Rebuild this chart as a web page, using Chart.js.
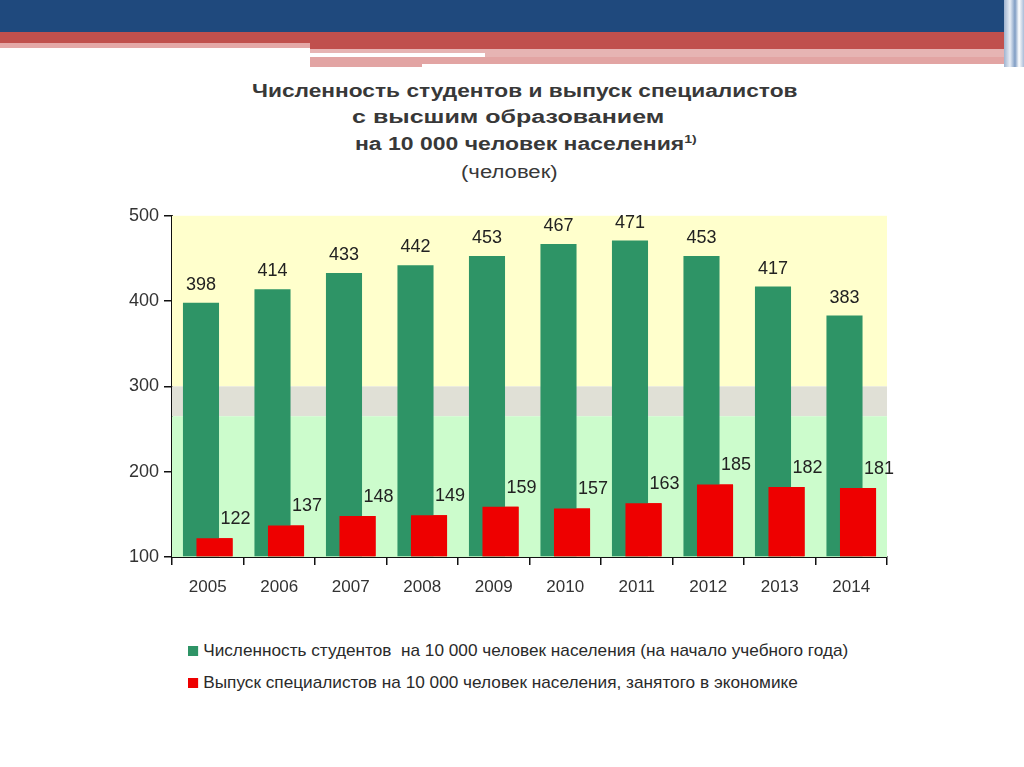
<!DOCTYPE html>
<html>
<head>
<meta charset="utf-8">
<script src="https://cdn.jsdelivr.net/npm/chart.js@4/dist/chart.umd.min.js"></script>
<style>
  body { margin: 0; width: 1024px; height: 767px; background: #fff; position: relative; overflow: hidden; font-family: 'Liberation Sans', Arial, sans-serif; }
  .bar { position: absolute; }
  .tl { position: absolute; white-space: nowrap; color: #383838; font-size: 18px; transform-origin: 0 50%; }
  .tl.b { font-weight: bold; }
  .tl sup { font-size: 11px; vertical-align: 7px; line-height: 0; }
  #chartBox { position: absolute; left: 100px; top: 200px; width: 800px; height: 412px; }
  .leg { position: absolute; left: 188px; white-space: nowrap; font-size: 17px; color: #2a2a2a; transform-origin: 0 50%; }
  .leg i { display: inline-block; width: 10px; height: 10px; margin-right: 5px; }
</style>
</head>
<body>
<!-- header stripes -->
<div class="bar" style="left:0;top:0;width:1024px;height:32px;background:#1f497d"></div>
<div class="bar" style="left:0;top:32px;width:1010px;height:11px;background:#c0504d"></div>
<div class="bar" style="left:0;top:43px;width:310px;height:5px;background:#e4a8a7"></div>
<div class="bar" style="left:310px;top:43px;width:700px;height:6px;background:#c0504d"></div>
<div class="bar" style="left:310px;top:49px;width:700px;height:4px;background:#e6b4b3"></div>
<div class="bar" style="left:485px;top:53px;width:525px;height:4px;background:#e6b4b3"></div>
<div class="bar" style="left:310px;top:57px;width:700px;height:7px;background:#e2a4a3"></div>
<div class="bar" style="left:310px;top:64px;width:112px;height:3px;background:#e2a4a3"></div>
<div class="bar" style="left:1004px;top:0;width:20px;height:67px;background:linear-gradient(90deg,#9fb3cf,#e8eef6 30%,#7f9cc3 55%,#fff 75%,#aabcd8)"></div>

<div class="tl b" data-w="545" style="left:252px;top:81px">Численность студентов и выпуск специалистов</div>
<div class="tl b" data-w="313" style="left:352px;top:107px">с высшим образованием</div>
<div class="tl b" data-w="342" style="left:355px;top:134px">на 10 000 человек населения<sup>1)</sup></div>
<div class="tl" data-w="97" style="left:461px;top:162px">(человек)</div>

<div id="chartBox"><canvas id="chart"></canvas></div>

<div class="leg" data-w="660" style="top:641px"><i style="background:#2e9466"></i>Численность студентов&nbsp; на 10 000 человек населения (на начало учебного года)</div>
<div class="leg" data-w="610" style="top:673px"><i style="background:#ee0000"></i>Выпуск специалистов на 10 000 человек населения, занятого в экономике</div>

<script>
const years = ['2005', '2006', '2007', '2008', '2009', '2010', '2011', '2012', '2013', '2014'];
const students = [398, 414, 433, 442, 453, 467, 471, 453, 417, 383];
const graduates = [122, 137, 148, 149, 159, 157, 163, 185, 182, 181];
const yTicks = [100, 200, 300, 400, 500];

// stretch text lines to the widths seen in the picture
document.querySelectorAll('[data-w]').forEach(el => {
  const k = Number(el.dataset.w) / el.offsetWidth;
  el.style.transform = 'scaleX(' + k.toFixed(3) + ')';
});

// background zones behind the bars
const zones = [
  { from: 300, to: 500, color: '#ffffcc' },
  { from: 265, to: 300, color: '#e0e0d6' },
  { from: 100, to: 265, color: '#ccfccc' }
];

const backgroundZones = {
  id: 'backgroundZones',
  beforeDatasetsDraw(chart) {
    const { ctx, chartArea, scales } = chart;
    ctx.save();
    zones.forEach(z => {
      const top = scales.y.getPixelForValue(z.to);
      const bottom = scales.y.getPixelForValue(z.from);
      ctx.fillStyle = z.color;
      ctx.fillRect(chartArea.left, top, chartArea.right - chartArea.left, bottom - top);
    });
    ctx.restore();
  }
};

// red bars must sit over the green ones, then the value labels
const redOnTopAndLabels = {
  id: 'redOnTopAndLabels',
  afterDatasetsDraw(chart) {
    const { ctx, chartArea } = chart;
    ctx.save();
    ctx.beginPath();
    ctx.rect(chartArea.left, chartArea.top, chartArea.right - chartArea.left, chartArea.bottom - chartArea.top);
    ctx.clip();
    chart.getDatasetMeta(1).controller.draw();
    ctx.restore();

    ctx.save();
    ctx.font = "18px 'Liberation Sans', sans-serif";
    ctx.fillStyle = '#222';
    ctx.textBaseline = 'middle';
    ctx.textAlign = 'center';
    chart.getDatasetMeta(0).data.forEach((bar, i) => {
      ctx.fillText(students[i], bar.x, bar.y - 18);
    });
    chart.getDatasetMeta(1).data.forEach((bar, i) => {
      ctx.fillText(graduates[i], bar.x + bar.width / 2 + 3, bar.y - 19);
    });
    ctx.restore();
  }
};

new Chart(document.getElementById('chart'), {
  type: 'bar',
  data: {
    labels: years,
    datasets: [
      {
        label: 'Численность студентов на 10 000 человек населения (на начало учебного года)',
        data: students,
        backgroundColor: '#2e9466',
        base: 100,
        categoryPercentage: 0.378,
        barPercentage: 2.67
      },
      {
        label: 'Выпуск специалистов на 10 000 человек населения, занятого в экономике',
        data: graduates,
        backgroundColor: '#ee0000',
        base: 100,
        categoryPercentage: 0.378,
        barPercentage: 2.67
      }
    ]
  },
  options: {
    responsive: true,
    maintainAspectRatio: false,
    animation: false,
    layout: { padding: { top: 10, right: 13, left: 0, bottom: 0 } },
    plugins: {
      legend: { display: false },
      tooltip: { enabled: false }
    },
    scales: {
      x: {
        grid: { display: true, drawOnChartArea: false, drawTicks: true, tickLength: 8, color: '#111', lineWidth: 1.5, offset: true },
        border: { display: true, color: '#111', width: 2 },
        ticks: { color: '#333', font: { family: "'Liberation Sans', Arial, sans-serif", size: 17 }, padding: 12, maxRotation: 0 },
        afterFit: s => { s.height = 55; }
      },
      y: {
        min: 100,
        max: 500,
        afterBuildTicks: s => { s.ticks = yTicks.map(v => ({ value: v })); },
        grid: { display: true, drawOnChartArea: false, drawTicks: true, tickLength: 8, color: '#111', lineWidth: 1.5 },
        border: { display: true, color: '#111', width: 2 },
        ticks: { color: '#333', font: { family: "'Liberation Sans', Arial, sans-serif", size: 18 }, padding: 5 },
        afterFit: s => { s.width = 72; }
      }
    }
  },
  plugins: [backgroundZones, redOnTopAndLabels]
});
</script>
</body>
</html>
